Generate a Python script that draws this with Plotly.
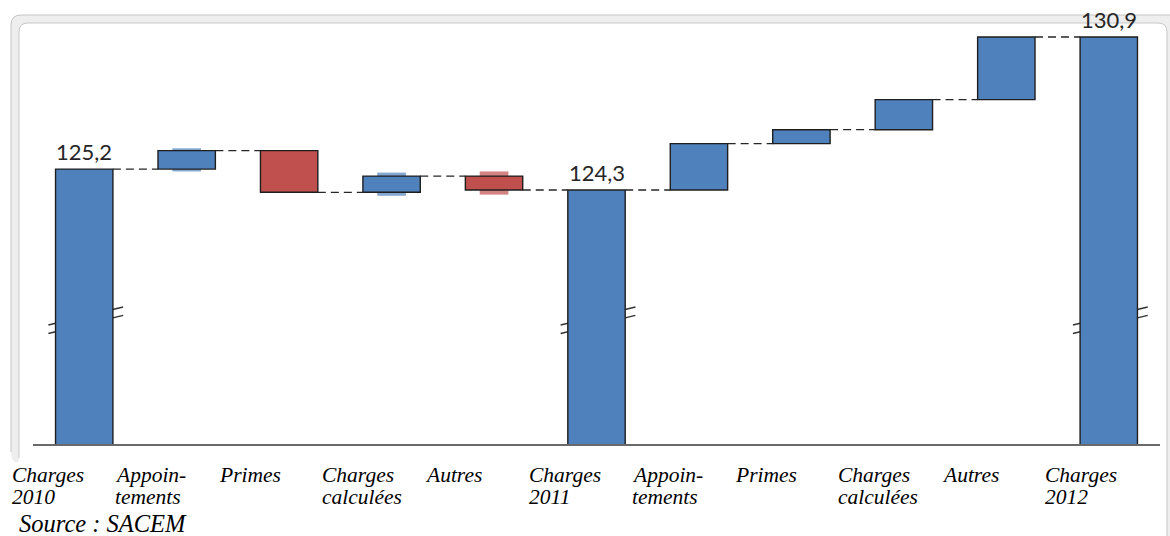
import plotly.graph_objects as go

# Wage bill bridge 2010 -> 2011 -> 2012 (millions)
tick_labels = [
    "Charges<br>2010", "Appoin-<br>tements", "Primes", "Charges<br>calculées", "Autres",
    "Charges<br>2011", "Appoin-<br>tements", "Primes", "Charges<br>calculées", "Autres",
    "Charges<br>2012",
]
# totals are given for the year columns, variations for the others
is_total = [True, False, False, False, False, True, False, False, False, False, True]
values = [125.2, 0.8, -1.8, 0.7, -0.6, 124.3, 2.0, 0.6, 1.3, 2.7, 130.9]
total_labels = ["125,2", "124,3", "130,9"]

BLUE = "#4F81BD"
RED = "#C0504D"
EDGE = "#1e1e1e"
BAR_W = 0.56

# running levels, bar bases and heights
bases, heights, colors, levels = [], [], [], []
level = 0.0
for tot, v in zip(is_total, values):
    if tot:
        bases.append(0.0)
        heights.append(v)
        colors.append(BLUE)
        level = v
    else:
        new = level + v
        bases.append(min(level, new))
        heights.append(abs(v))
        colors.append(BLUE if v >= 0 else RED)
        level = new
    levels.append(level)

n = len(values)
x = list(range(n))

fig = go.Figure()

# faint lighter patches behind the small 2011 movements
halo_idx = [i for i in range(1, 5)]
fig.add_trace(go.Bar(
    x=halo_idx,
    base=[bases[i] + heights[i] / 2 - 0.5 for i in halo_idx],
    y=[1.0 for _ in halo_idx],
    width=0.28,
    marker=dict(color=[("rgba(79,129,189,0.7)" if colors[i] == BLUE else "rgba(192,80,77,0.7)")
                       for i in halo_idx], line=dict(width=0)),
    hoverinfo="skip", showlegend=False,
))

fig.add_trace(go.Bar(
    x=x, base=bases, y=heights, width=BAR_W,
    marker=dict(color=colors, line=dict(color=EDGE, width=1.4)),
    showlegend=False, hoverinfo="skip",
))

# dashed connectors between consecutive bars
cx, cy = [], []
for i in range(n - 1):
    cx += [i + BAR_W / 2, i + 1 - BAR_W / 2, None]
    cy += [levels[i], levels[i], None]
fig.add_trace(go.Scatter(
    x=cx, y=cy, mode="lines",
    line=dict(color="#262626", width=1.3, dash="8px,5px"),
    showlegend=False, hoverinfo="skip",
))

# ---- layout geometry (pixels)
W, H = 1170, 536
ML, MR, MT, MB = 33, 10, 15, 92
PW, PH = W - ML - MR, H - MT - MB


def px(xp):
    return (xp - ML) / PW


def py(yp):
    return (H - MB - yp) / PH


def path(cmds, close):
    s = ""
    for cmd, ps in cmds:
        s += cmd + " " + " ".join(f"{px(a):.5f},{py(b):.5f}" for a, b in ps) + " "
    return s + ("Z" if close else "")


# chart-frame band (top and left sides, rounded corners)
band = path([
    ("M", [(11, 452)]), ("L", [(11, 25)]), ("Q", [(11, 15), (21, 15)]),
    ("L", [(1180, 15)]), ("L", [(1180, 540)]), ("L", [(1167, 540)]),
    ("L", [(1167, 32)]), ("Q", [(1167, 23), (1158, 23)]),
    ("L", [(28, 23)]), ("Q", [(19, 23), (19, 32)]),
    ("L", [(19, 458)]), ("Q", [(19, 464), (15, 462)]), ("Q", [(11, 460), (11, 452)]),
], True)
outer = path([
    ("M", [(11, 452)]), ("L", [(11, 25)]), ("Q", [(11, 15), (21, 15)]), ("L", [(1180, 15)]),
], False)
inner = path([
    ("M", [(19, 458)]), ("L", [(19, 32)]), ("Q", [(19, 23), (28, 23)]),
    ("L", [(1158, 23)]), ("Q", [(1167, 23), (1167, 32)]), ("L", [(1167, 540)]),
], False)

shapes = [
    dict(type="path", xref="paper", yref="paper", layer="below", path=band,
         fillcolor="#eeeeee", line=dict(width=0)),
    dict(type="path", xref="paper", yref="paper", layer="below", path=outer,
         fillcolor="rgba(0,0,0,0)", line=dict(color="#c4c4c4", width=1)),
    dict(type="path", xref="paper", yref="paper", layer="below", path=inner,
         fillcolor="rgba(0,0,0,0)", line=dict(color="#c8c8c8", width=1)),
]

# axis-break marks crossing the total bars
BREAK_Y, SLANT, GAP = 118.68, 0.39, 0.36
for i, tot in enumerate(is_total):
    if not tot:
        continue
    for k in (0, 1):
        off = GAP / 2 - k * GAP
        shapes.append(dict(
            type="line", xref="x", yref="y", layer="below",
            x0=i - 0.35, x1=i + 0.38,
            y0=BREAK_Y + off - SLANT, y1=BREAK_Y + off + SLANT,
            line=dict(color="#333333", width=1.5),
        ))

annotations = []
# value labels above the totals
tot_idx = [i for i, t in enumerate(is_total) if t]
for i, txt in zip(tot_idx, total_labels):
    annotations.append(dict(
        x=i, y=levels[i], xref="x", yref="y", text=txt, showarrow=False,
        yanchor="bottom", yshift=2,
        font=dict(family="Lato", size=22, color="#262626"),
    ))

# category labels below the axis, left-aligned on a fixed tab grid
TAB0, TAB_STEP = 11, 103.3
for i, lab in enumerate(tick_labels):
    for j, line in enumerate(lab.split("<br>")):
        annotations.append(dict(
            x=px(TAB0 + i * TAB_STEP), y=0, xref="paper", yref="paper", text=line,
            showarrow=False, xanchor="left", yanchor="middle", yshift=-31 - 22 * j,
            borderpad=0,
            font=dict(family="Liberation Serif", size=21.5, color="black", style="italic"),
        ))

annotations.append(dict(
    x=px(18), y=py(523), xref="paper", yref="paper", text="Source : SACEM",
    showarrow=False, xanchor="left", yanchor="middle", borderpad=0,
    font=dict(family="Liberation Serif", size=24.5, color="black", style="italic"),
))

fig.update_layout(
    width=W, height=H,
    margin=dict(l=ML, r=MR, t=MT, b=MB),
    paper_bgcolor="white", plot_bgcolor="rgba(0,0,0,0)",
    barmode="overlay",
    shapes=shapes, annotations=annotations,
    xaxis=dict(range=[-0.5, n - 0.5], showgrid=False, zeroline=False,
               showticklabels=False, ticks="", showline=True,
               linecolor="#6a6a6a", linewidth=2, fixedrange=True),
    yaxis=dict(range=[113.34, 131.85], showgrid=False, zeroline=False,
               showticklabels=False, ticks="", showline=False, fixedrange=True),
)

fig.write_html("out.html")
